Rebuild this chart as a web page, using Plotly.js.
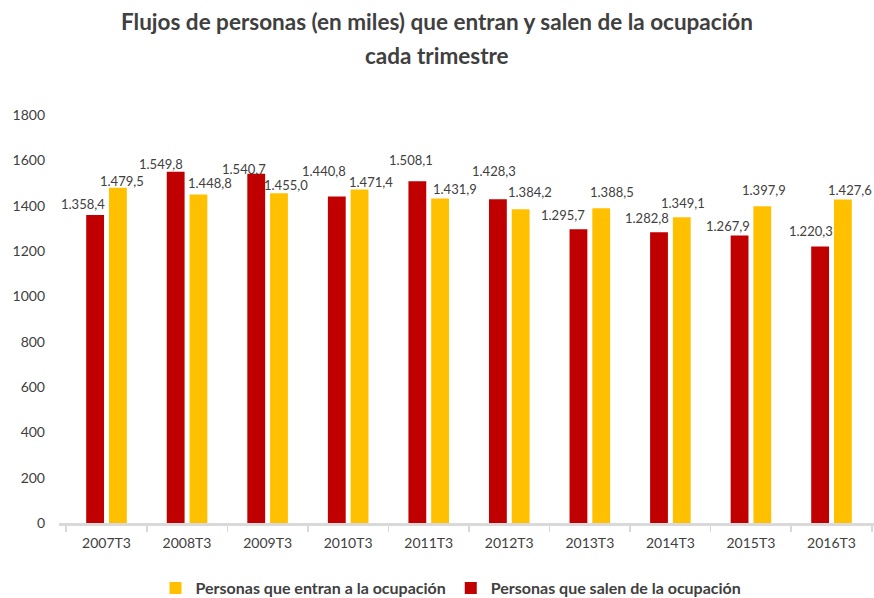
<!DOCTYPE html>
<html>
<head>
<meta charset="utf-8">
<script src="https://cdn.plot.ly/plotly-3.0.1.min.js"></script>
<style>html,body{margin:0;padding:0;background:#fff;}#chart{width:874px;height:598px;}</style>
</head>
<body>
<div id="chart"></div>
<script>
// Data
const categories = ['2007T3','2008T3','2009T3','2010T3','2011T3','2012T3','2013T3','2014T3','2015T3','2016T3'];
const salen  = [1358.4, 1549.8, 1540.7, 1440.8, 1508.1, 1428.3, 1295.7, 1282.8, 1267.9, 1220.3];
const entran = [1479.5, 1448.8, 1455.0, 1471.4, 1431.9, 1384.2, 1388.5, 1349.1, 1397.9, 1427.6];
const yTicks = [0, 200, 400, 600, 800, 1000, 1200, 1400, 1600, 1800];

// Label nudges (pixels) to mimic the reference placement
const redDx = [-12,-15,-12,-13,-6,-4,-15,-12,-11,-9];
const redDy = [11,8,5,25,21,28,14,14,10,15];
const yelDx = [4,11,7,11,15,9,11,1,2,7];
const yelDy = [7,12,8,7,9,17,16,14,16,9];

const RED = '#C00000', YEL = '#FFC000';
const FONT = 'Lato, "Open Sans", sans-serif';
const ML = 59, MR = 0, MT = 115, MB = 75, W = 874, H = 598;
const PW = W - ML - MR, PH = H - MT - MB;

function fmt(v){
  const s = v.toFixed(1).split('.');
  const int = s[0].replace(/\B(?=(\d{3})+(?!\d))/g, '.');
  return int + ',' + s[1];
}

const traces = [
  {type:'bar', name:'Personas que salen de la ocupación', x:categories, y:salen,
   marker:{color:RED}, hoverinfo:'skip'},
  {type:'bar', name:'Personas que entran a la ocupación', x:categories, y:entran,
   marker:{color:YEL}, hoverinfo:'skip'}
];

const slotHalf = 11.5;
const annotations = [];
categories.forEach((c,i)=>{
  annotations.push({x:c, y:salen[i], xref:'x', yref:'y', text:fmt(salen[i]), showarrow:false,
    xanchor:'center', yanchor:'middle', xshift:-slotHalf+redDx[i], yshift:redDy[i],
    font:{family:FONT, size:13, color:'#404040'}});
  annotations.push({x:c, y:entran[i], xref:'x', yref:'y', text:fmt(entran[i]), showarrow:false,
    xanchor:'center', yanchor:'middle', xshift:slotHalf+yelDx[i], yshift:yelDy[i],
    font:{family:FONT, size:13, color:'#404040'}});
});
annotations.push({text:'<b>cada trimestre</b>', xref:'paper', yref:'paper', x:(437-ML)/PW, y:(H-MB-55)/PH,
  showarrow:false, xanchor:'center', yanchor:'middle', font:{family:FONT, size:22.5, color:'#404040'}});

const layout = {
  width:W, height:H,
  margin:{l:ML, r:MR, t:MT, b:MB, autoexpand:false},
  paper_bgcolor:'#fff', plot_bgcolor:'#fff',
  title:{text:'<b>Flujos de personas (en miles) que entran y salen de la ocupación</b>',
    x:0.5, xref:'container', y:1-22/H, yref:'container', xanchor:'center', yanchor:'middle',
    font:{family:FONT, size:22.5, color:'#404040'}},
  barmode:'group', bargap:0.435, bargroupgap:0.217,
  showlegend:true,
  legend:{orientation:'h', traceorder:'reversed', xref:'container', x:451/W, xanchor:'center',
    yref:'container', y:1-588/H, yanchor:'middle',
    font:{family:FONT, size:16, color:'#404040', weight:'bold'}, itemwidth:30},
  xaxis:{type:'category', showgrid:false, zeroline:false, showline:true, linecolor:'#d9d9d9', linewidth:2.5,
    ticks:'outside', tickson:'boundaries', ticklen:6, tickcolor:'#d9d9d9', tickwidth:1.5, ticklabelstandoff:6,
    tickfont:{family:FONT, size:14, color:'#404040'}, fixedrange:true, automargin:false},
  yaxis:{range:[0,1800], tickvals:yTicks, ticktext:yTicks.map(String), showgrid:false, zeroline:false, showline:false,
    ticks:'', ticklabelstandoff:13, tickfont:{family:FONT, size:14, color:'#404040'}, fixedrange:true, automargin:false},
  annotations:annotations
};

Plotly.newPlot('chart', traces, layout, {displayModeBar:false, staticPlot:true});
</script>
</body>
</html>
